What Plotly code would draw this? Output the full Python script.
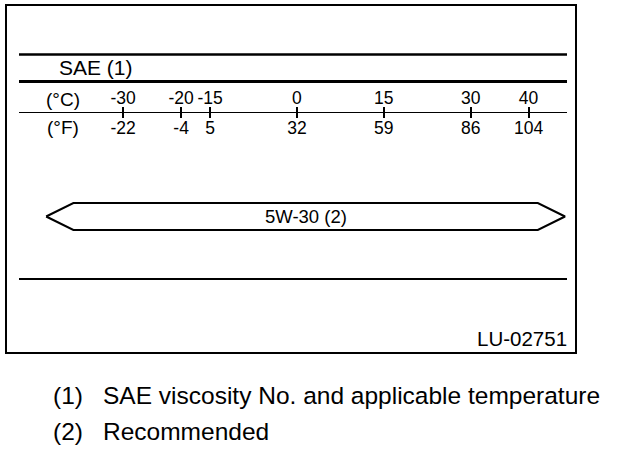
import plotly.graph_objects as go

# ---------------- data ----------------
celsius = [-30, -20, -15, 0, 15, 30, 40]
celsius_labels = ["-30", "-20", "-15", "0", "15", "30", "40"]
fahrenheit_labels = ["-22", "-4", "5", "32", "59", "86", "104"]
unit_labels = ["(°C)", "(°F)"]
scale_title = "SAE (1)"

grades = ["5W-30 (2)"]
grade_low_c = [-38.6]     # where the band's full height starts (extends beyond: arrow)
grade_high_c = [41.6]     # where the band's full height ends (extends beyond: arrow)

note_keys = ["(1)", "(2)"]
note_texts = ["SAE viscosity No. and applicable temperature", "Recommended"]
figure_code = "LU-02751"

# ---------------- layout helpers ----------------
W, H = 624, 450
FONT = "Liberation Sans, Arial, Helvetica, sans-serif"


def px(x):
    return x / W


def py(y):
    return 1 - y / H


# linear temperature scale (pixel = A + B * celsius)
A, B = 296.9, 5.791
AX_L, AX_R = 19, 567
c_range = [(AX_L - A) / B, (AX_R - A) / B]
AXIS_Y = 112
TIP_C = 4.7        # arrow-tip length in °C units
BAND_Y, BAND_H = 216.5, 13.5

fig = go.Figure()

# recommended grade band (arrow-ended)
for g, lo, hi in zip(grades, grade_low_c, grade_high_c):
    fig.add_trace(go.Scatter(
        x=[lo - TIP_C, lo, hi, hi + TIP_C, hi, lo, lo - TIP_C],
        y=[BAND_Y, BAND_Y - BAND_H, BAND_Y - BAND_H, BAND_Y,
           BAND_Y + BAND_H, BAND_Y + BAND_H, BAND_Y],
        mode="lines", fill="toself", fillcolor="white",
        line=dict(color="black", width=2), hoverinfo="skip",
        xaxis="x", yaxis="y",
    ))
    fig.add_annotation(x=(lo + hi) / 2, y=BAND_Y, xref="x", yref="y",
                       xanchor="center", yanchor="middle",
                       text=g, showarrow=False,
                       font=dict(family=FONT, size=18.5, color="black"))

# invisible trace so the top (°C) axis is drawn
fig.add_trace(go.Scatter(x=celsius, y=[AXIS_Y] * len(celsius), xaxis="x2", yaxis="y",
                         mode="markers", marker=dict(opacity=0), hoverinfo="skip"))

tickfont = dict(family=FONT, size=17.5, color="black")
fig.update_layout(
    width=W, height=H,
    margin=dict(l=0, r=0, t=0, b=0, pad=0),
    paper_bgcolor="white", plot_bgcolor="white",
    showlegend=False,
    xaxis=dict(domain=[px(AX_L), px(AX_R)], range=c_range, anchor="free",
               position=py(AXIS_Y), side="bottom",
               showline=True, linecolor="black", linewidth=1,
               ticks="outside", ticklen=5, tickwidth=2, tickcolor="black",
               tickvals=celsius, ticktext=fahrenheit_labels, tickfont=tickfont,
               ticklabelstandoff=-5,
               showgrid=False, zeroline=False, fixedrange=True),
    xaxis2=dict(domain=[px(AX_L), px(AX_R)], overlaying="x", matches="x",
                anchor="free", position=py(AXIS_Y), side="top",
                showline=False,
                ticks="outside", ticklen=5, tickwidth=2, tickcolor="black",
                tickvals=celsius, ticktext=celsius_labels, tickfont=tickfont,
                ticklabelstandoff=-4,
                showgrid=False, zeroline=False, fixedrange=True),
    yaxis=dict(domain=[0, 1], range=[H, 0], visible=False, fixedrange=True),
)

# frame and horizontal rules
shapes = [
    dict(type="rect", xref="paper", yref="paper", x0=px(6), x1=px(576),
         y0=py(5), y1=py(353), line=dict(color="black", width=2)),
    dict(type="line", xref="paper", yref="paper", x0=px(AX_L), x1=px(AX_R),
         y0=py(54.5), y1=py(54.5), line=dict(color="black", width=2.5)),
    dict(type="line", xref="paper", yref="paper", x0=px(AX_L), x1=px(AX_R),
         y0=py(81.5), y1=py(81.5), line=dict(color="black", width=3)),
    dict(type="line", xref="paper", yref="paper", x0=px(AX_L), x1=px(AX_R),
         y0=py(279), y1=py(279), line=dict(color="black", width=2)),
]
fig.update_layout(shapes=shapes)


def note(x, y, text, size, xanchor="center"):
    fig.add_annotation(x=px(x), y=py(y), xref="paper", yref="paper",
                       xanchor=xanchor, yanchor="middle", text=text, showarrow=False,
                       font=dict(family=FONT, size=size, color="black"))


# texts
note(95.5, 67.5, scale_title, 21)
for lab, yy in zip(unit_labels, [99.5, 127.5]):
    note(63, yy, lab, 19)
note(569, 338.5, figure_code, 20.5, xanchor="right")
for i, (k, t) in enumerate(zip(note_keys, note_texts)):
    yy = 395 + i * 36.5
    note(51, yy, k, 24.5, xanchor="left")
    note(101, yy, t, 24.5, xanchor="left")

fig.write_html("out.html", config={"displayModeBar": False},
               post_script="document.body.style.margin='0';")
